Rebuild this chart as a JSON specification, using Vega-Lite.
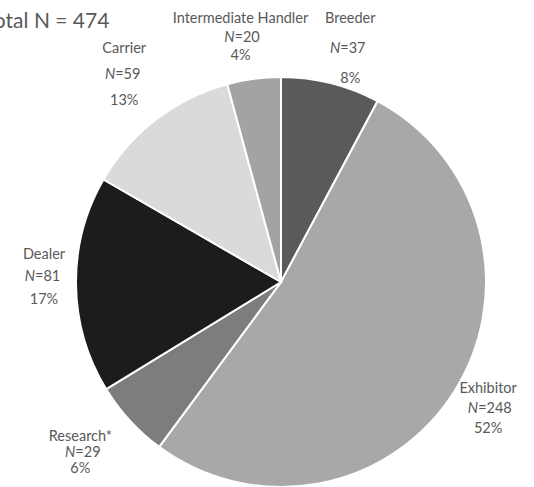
{
  "$schema": "https://vega.github.io/schema/vega-lite/v6.json",
  "width": 440,
  "height": 400,
  "autosize": "none",
  "padding": {"left": 61, "top": 82, "right": 33, "bottom": 5},
  "background": "white",
  "title": {
    "text": "Total N = 474",
    "anchor": "start",
    "fontSize": 21,
    "font": "Lato",
    "fontWeight": "normal",
    "color": "#595959",
    "dx": -24,
    "dy": 46
  },
  "data": {
    "values": [
      {"category": "Breeder", "n": 37, "pct": "8%", "eq": "=37", "ord": 1},
      {"category": "Exhibitor", "n": 248, "pct": "52%", "eq": "=248", "ord": 2},
      {"category": "Research*", "n": 29, "pct": "6%", "eq": "=29", "ord": 3},
      {"category": "Dealer", "n": 81, "pct": "17%", "eq": "=81", "ord": 4},
      {"category": "Carrier", "n": 59, "pct": "13%", "eq": "=59", "ord": 5},
      {"category": "Intermediate Handler", "n": 20, "pct": "4%", "eq": "=20", "ord": 6}
    ]
  },
  "encoding": {
    "theta": {"field": "n", "type": "quantitative", "stack": true},
    "order": {"field": "ord", "type": "quantitative"}
  },
  "layer": [
    {
      "mark": {"type": "arc", "outerRadius": 205, "stroke": "white", "strokeWidth": 2},
      "encoding": {
        "color": {
          "field": "category",
          "type": "nominal",
          "scale": {
            "domain": ["Breeder", "Exhibitor", "Research*", "Dealer", "Carrier", "Intermediate Handler"],
            "range": ["#5a5a5a", "#a8a8a8", "#7d7d7d", "#1c1c1c", "#dadada", "#a3a3a3"]
          },
          "legend": null
        }
      }
    },

    {"mark": {"type": "text", "radius": 240, "dx": 11, "dy": -30, "font": "Lato", "fontSize": 14.5, "color": "#595959"},
     "encoding": {"text": {"condition": {"test": "datum.category === 'Breeder'", "field": "category"}, "value": ""}}},
    {"mark": {"type": "text", "radius": 240, "dx": 1, "align": "right", "font": "Lato", "fontSize": 14.5, "fontStyle": "italic", "color": "#595959"},
     "encoding": {"text": {"condition": {"test": "datum.category === 'Breeder'", "value": "N"}, "value": ""}}},
    {"mark": {"type": "text", "radius": 240, "dx": 1, "align": "left", "font": "Lato", "fontSize": 14.5, "color": "#595959"},
     "encoding": {"text": {"condition": {"test": "datum.category === 'Breeder'", "field": "eq"}, "value": ""}}},
    {"mark": {"type": "text", "radius": 240, "dx": 11, "dy": 30, "font": "Lato", "fontSize": 14.5, "color": "#595959"},
     "encoding": {"text": {"condition": {"test": "datum.category === 'Breeder'", "field": "pct"}, "value": ""}}},

    {"mark": {"type": "text", "radius": 245, "dy": -24, "font": "Lato", "fontSize": 14.5, "color": "#595959"},
     "encoding": {"text": {"condition": {"test": "datum.category === 'Exhibitor'", "field": "category"}, "value": ""}}},
    {"mark": {"type": "text", "radius": 245, "dx": -10, "dy": -4, "align": "right", "font": "Lato", "fontSize": 14.5, "fontStyle": "italic", "color": "#595959"},
     "encoding": {"text": {"condition": {"test": "datum.category === 'Exhibitor'", "value": "N"}, "value": ""}}},
    {"mark": {"type": "text", "radius": 245, "dx": -10, "dy": -4, "align": "left", "font": "Lato", "fontSize": 14.5, "color": "#595959"},
     "encoding": {"text": {"condition": {"test": "datum.category === 'Exhibitor'", "field": "eq"}, "value": ""}}},
    {"mark": {"type": "text", "radius": 245, "dy": 16, "font": "Lato", "fontSize": 14.5, "color": "#595959"},
     "encoding": {"text": {"condition": {"test": "datum.category === 'Exhibitor'", "field": "pct"}, "value": ""}}},

    {"mark": {"type": "text", "radius": 256, "dx": -12, "dy": -18, "font": "Lato", "fontSize": 14.5, "color": "#595959"},
     "encoding": {"text": {"condition": {"test": "datum.category === 'Research*'", "field": "category"}, "value": ""}}},
    {"mark": {"type": "text", "radius": 256, "dx": -17, "dy": -2, "align": "right", "font": "Lato", "fontSize": 14.5, "fontStyle": "italic", "color": "#595959"},
     "encoding": {"text": {"condition": {"test": "datum.category === 'Research*'", "value": "N"}, "value": ""}}},
    {"mark": {"type": "text", "radius": 256, "dx": -17, "dy": -2, "align": "left", "font": "Lato", "fontSize": 14.5, "color": "#595959"},
     "encoding": {"text": {"condition": {"test": "datum.category === 'Research*'", "field": "eq"}, "value": ""}}},
    {"mark": {"type": "text", "radius": 256, "dx": -12, "dy": 14, "font": "Lato", "fontSize": 14.5, "color": "#595959"},
     "encoding": {"text": {"condition": {"test": "datum.category === 'Research*'", "field": "pct"}, "value": ""}}},

    {"mark": {"type": "text", "radius": 237, "dy": -30, "font": "Lato", "fontSize": 14.5, "color": "#595959"},
     "encoding": {"text": {"condition": {"test": "datum.category === 'Dealer'", "field": "category"}, "value": ""}}},
    {"mark": {"type": "text", "radius": 237, "dx": -9, "dy": -8, "align": "right", "font": "Lato", "fontSize": 14.5, "fontStyle": "italic", "color": "#595959"},
     "encoding": {"text": {"condition": {"test": "datum.category === 'Dealer'", "value": "N"}, "value": ""}}},
    {"mark": {"type": "text", "radius": 237, "dx": -9, "dy": -8, "align": "left", "font": "Lato", "fontSize": 14.5, "color": "#595959"},
     "encoding": {"text": {"condition": {"test": "datum.category === 'Dealer'", "field": "eq"}, "value": ""}}},
    {"mark": {"type": "text", "radius": 237, "dy": 15, "font": "Lato", "fontSize": 14.5, "color": "#595959"},
     "encoding": {"text": {"condition": {"test": "datum.category === 'Dealer'", "field": "pct"}, "value": ""}}},

    {"mark": {"type": "text", "radius": 257, "dy": -29, "font": "Lato", "fontSize": 14.5, "color": "#595959"},
     "encoding": {"text": {"condition": {"test": "datum.category === 'Carrier'", "field": "category"}, "value": ""}}},
    {"mark": {"type": "text", "radius": 257, "dx": -9, "dy": -3, "align": "right", "font": "Lato", "fontSize": 14.5, "fontStyle": "italic", "color": "#595959"},
     "encoding": {"text": {"condition": {"test": "datum.category === 'Carrier'", "value": "N"}, "value": ""}}},
    {"mark": {"type": "text", "radius": 257, "dx": -9, "dy": -3, "align": "left", "font": "Lato", "fontSize": 14.5, "color": "#595959"},
     "encoding": {"text": {"condition": {"test": "datum.category === 'Carrier'", "field": "eq"}, "value": ""}}},
    {"mark": {"type": "text", "radius": 257, "dy": 23, "font": "Lato", "fontSize": 14.5, "color": "#595959"},
     "encoding": {"text": {"condition": {"test": "datum.category === 'Carrier'", "field": "pct"}, "value": ""}}},

    {"mark": {"type": "text", "radius": 246, "dx": -8, "dy": -19, "font": "Lato", "fontSize": 14.5, "color": "#595959"},
     "encoding": {"text": {"condition": {"test": "datum.category === 'Intermediate Handler'", "field": "category"}, "value": ""}}},
    {"mark": {"type": "text", "radius": 246, "dx": -14, "align": "right", "font": "Lato", "fontSize": 14.5, "fontStyle": "italic", "color": "#595959"},
     "encoding": {"text": {"condition": {"test": "datum.category === 'Intermediate Handler'", "value": "N"}, "value": ""}}},
    {"mark": {"type": "text", "radius": 246, "dx": -14, "align": "left", "font": "Lato", "fontSize": 14.5, "color": "#595959"},
     "encoding": {"text": {"condition": {"test": "datum.category === 'Intermediate Handler'", "field": "eq"}, "value": ""}}},
    {"mark": {"type": "text", "radius": 246, "dx": -8, "dy": 18, "font": "Lato", "fontSize": 14.5, "color": "#595959"},
     "encoding": {"text": {"condition": {"test": "datum.category === 'Intermediate Handler'", "field": "pct"}, "value": ""}}}
  ]
}
